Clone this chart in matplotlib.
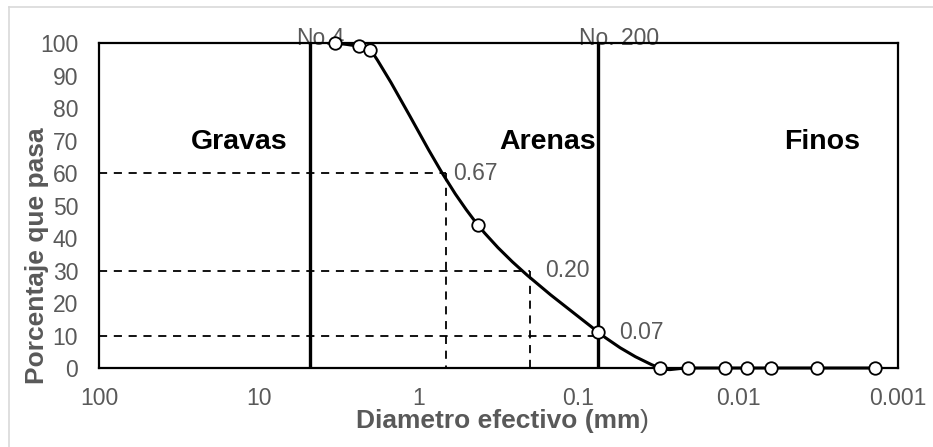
"""
Curva granulometrica: porcentaje que pasa vs diametro efectivo.
Excel-like smoothed line on a reversed log axis, with D60/D30/D10 guides.
"""

import matplotlib
matplotlib.use("Agg")
import matplotlib.pyplot as plt
import numpy as np
from matplotlib.lines import Line2D
from matplotlib.patches import PathPatch
from matplotlib.path import Path

plt.rcParams["font.family"] = ["Liberation Sans", "DejaVu Sans"]

GRAY = "#595959"
BORDER = "#d9d9d9"

# sieve analysis
diameters = [3.35, 2.36, 2.0, 0.425, 0.075, 0.031, 0.0206, 0.0121, 0.0088, 0.0062, 0.0032, 0.0014]
passing = [100, 99, 98, 44, 11, 0, 0, 0, 0, 0, 0, 0]

# sieve boundaries
sieve_sizes = [4.75, 0.075]
sieve_labels = ["No.4", "No. 200"]

# effective diameters
d_values = [0.67, 0.20, 0.075]
d_percent = [60, 30, 10]
d_labels = ["0.67", "0.20", "0.07"]

x_ticks = [100, 10, 1, 0.1, 0.01, 0.001]
x_ticklabels = ["100", "10", "1", "0.1", "0.01", "0.001"]
y_ticks = list(range(0, 101, 10))

regions = ["Gravas", "Arenas", "Finos"]


def smooth_path(ax, xs, ys):
    # bezier through the points, tangents taken in screen space so the
    # curve does not loop where points are bunched together
    to_disp = ax.transData
    pts = to_disp.transform(np.column_stack([xs, ys]))
    n = len(pts)
    tang = []
    for i in range(n):
        t = pts[min(i + 1, n - 1)] - pts[max(i - 1, 0)]
        tang.append(t / (np.hypot(*t) or 1.0))
    verts = [pts[0]]
    codes = [Path.MOVETO]
    for i in range(n - 1):
        seg = np.hypot(*(pts[i + 1] - pts[i])) / 3
        verts += [pts[i] + tang[i] * seg, pts[i + 1] - tang[i + 1] * seg, pts[i + 1]]
        codes += [Path.CURVE4] * 3
    data = to_disp.inverted().transform(np.array(verts))
    return Path(data, codes)


fig = plt.figure(figsize=(9.33, 4.47), dpi=100)
ax = fig.add_axes([0.1061, 0.1767, 0.8564, 0.7271])

ax.set_xscale("log")
ax.set_xlim(100, 0.001)
ax.set_ylim(0, 100)

# dashed guides for D60, D30, D10
for d, pct, lab, off in zip(d_values, d_percent, d_labels, [(5, 0), (11, 0), (15, 2)]):
    ax.plot([100, d], [pct, pct], color="black", lw=1.3, dashes=(4.5, 3.7), zorder=2)
    ax.plot([d, d], [pct, 0], color="black", lw=1.3, dashes=(4.5, 3.7), zorder=2)
    ax.annotate(lab, xy=(d, pct), xytext=off, textcoords="offset points",
                ha="left", va="center", fontsize=16.5, color=GRAY, zorder=6)

# sieve boundaries
ax.vlines(sieve_sizes, 0, 100, color="black", lw=2.4, zorder=3)
for s, lab, dx in zip(sieve_sizes, sieve_labels, [7, 15]):
    ax.annotate(lab, xy=(s, 100), xytext=(dx, 3), textcoords="offset points",
                ha="center", va="center", fontsize=16.5, color=GRAY, zorder=1,
                annotation_clip=False)

# grading curve
ax.add_patch(PathPatch(smooth_path(ax, diameters, passing), facecolor="none",
                       edgecolor="black", lw=2.2, zorder=4, clip_on=False))
ax.plot(diameters, passing, ls="none", marker="o", ms=9, mfc="white",
        mec="black", mew=1.3, zorder=5, clip_on=False)

for name, xf in zip(regions, [0.175, 0.562, 0.905]):
    ax.text(xf, 0.695, name, transform=ax.transAxes, ha="center", va="center",
            fontsize=20.5, fontweight="bold", color="black")

ax.set_xticks(x_ticks)
ax.set_xticklabels(x_ticklabels)
ax.xaxis.set_minor_locator(matplotlib.ticker.NullLocator())
ax.set_yticks(y_ticks)
ax.tick_params(axis="both", length=0, labelsize=16.5, labelcolor=GRAY)
ax.tick_params(axis="x", pad=14)
ax.tick_params(axis="y", pad=15)

for sp in ax.spines.values():
    sp.set_linewidth(1.6)
    sp.set_color("black")

# axis titles (closing paren is not bold in the original)
xl = fig.text(0.5337, 1 - 421 / 447, "Diametro efectivo (mm", ha="center", va="center",
              fontsize=19, fontweight="bold", color=GRAY)
ax.annotate(")", xy=(1, 0.5), xycoords=xl, ha="left", va="center",
            fontsize=19, color=GRAY)
fig.text(37 / 933, 1 - 256 / 447, "Porcentaje que pasa", rotation=90, ha="center",
         va="center", fontsize=19, fontweight="bold", color=GRAY)

# chart area border
fig.add_artist(Line2D([9 / 933, 1], [1 - 7 / 447] * 2, color=BORDER, lw=1.2,
                      transform=fig.transFigure))
fig.add_artist(Line2D([9 / 933] * 2, [0, 1 - 7 / 447], color=BORDER, lw=1.2,
                      transform=fig.transFigure))

fig.savefig("out.png", dpi=100)
